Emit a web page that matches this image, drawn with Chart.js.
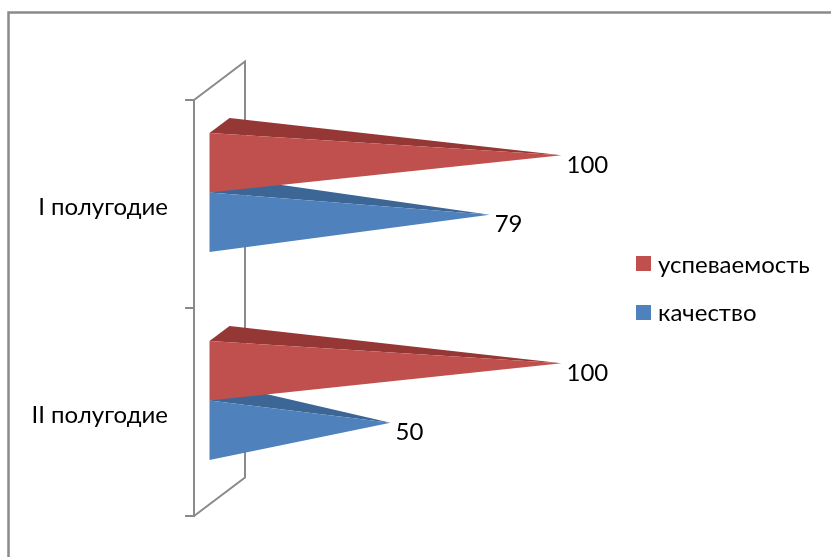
<!DOCTYPE html>
<html>
<head>
<meta charset="utf-8">
<script src="https://cdn.jsdelivr.net/npm/chart.js@4/dist/chart.umd.min.js"></script>
<style>
html, body { margin: 0; padding: 0; background: #fff; overflow: hidden; }
canvas { display: block; }
</style>
</head>
<body>
<canvas id="mycanvas" width="831" height="557"></canvas>
<script>
var categories = ["I полугодие", "II полугодие"];
var seriesNames = ["успеваемость", "качество"];
var uspevaemost = [100, 100];
var kachestvo = [79, 50];

var frontColors = ["#C0504D", "#4F81BD"];
var topColors = ["#953735", "#3C6696"];
var axisColor = "#8A8A8A";
var fontName = "Lato, 'Open Sans', sans-serif";

// oblique 3d look: wall depth, how far the bars stand off the front of the wall, bar depth
var wallDx = 51, wallDy = -38.5;
var barDx = 15.5, barDy = -11.6;
var coneDx = 20, coneDy = -15;

var conePlugin = {
  id: 'cone3d',
  beforeDraw: function(chart) {
    var ctx = chart.ctx;
    ctx.save();
    ctx.strokeStyle = axisColor;
    ctx.lineWidth = 2.5;
    ctx.beginPath();
    ctx.moveTo(8.5, 557);
    ctx.lineTo(8.5, 12.5);
    ctx.lineTo(831, 12.5);
    ctx.stroke();
    ctx.restore();
  },
  beforeDatasetsDraw: function(chart) {
    // back of the wall, the front edge is the axis itself
    var a = chart.chartArea, ctx = chart.ctx;
    ctx.save();
    ctx.strokeStyle = axisColor;
    ctx.lineWidth = 2;
    ctx.beginPath();
    ctx.moveTo(a.left, a.top);
    ctx.lineTo(a.left + wallDx, a.top + wallDy);
    ctx.lineTo(a.left + wallDx, a.bottom + wallDy);
    ctx.lineTo(a.left, a.bottom);
    ctx.stroke();
    ctx.restore();
  },
  beforeDatasetDraw: function(chart, args) {
    var ctx = chart.ctx;
    var meta = args.meta;
    for (var i = meta.data.length - 1; i >= 0; i--) {
      var bar = meta.data[i];
      var p = bar.getProps(['x', 'y', 'base', 'height'], true);
      var x0 = p.base + barDx;
      var top = p.y - p.height / 2 + barDy;
      var bottom = p.y + p.height / 2 + barDy;
      var tipX = p.x + barDx + coneDx / 2;
      var tipY = p.y + barDy + coneDy / 2;

      ctx.fillStyle = topColors[args.index];
      ctx.beginPath();
      ctx.moveTo(x0, top);
      ctx.lineTo(x0 + coneDx, top + coneDy);
      ctx.lineTo(tipX, tipY);
      ctx.closePath();
      ctx.fill();

      ctx.fillStyle = frontColors[args.index];
      ctx.beginPath();
      ctx.moveTo(x0, top);
      ctx.lineTo(x0, bottom);
      ctx.lineTo(tipX, tipY);
      ctx.closePath();
      ctx.fill();
    }
    return false;
  },
  afterDatasetsDraw: function(chart) {
    var ctx = chart.ctx;
    ctx.save();
    ctx.fillStyle = "#000";
    ctx.font = "24px " + fontName;
    ctx.textAlign = "left";
    ctx.textBaseline = "middle";
    chart.data.datasets.forEach(function(ds, d) {
      chart.getDatasetMeta(d).data.forEach(function(bar, i) {
        var p = bar.getProps(['x', 'y'], true);
        ctx.fillText(ds.data[i], p.x + barDx + coneDx / 2 + 5, p.y + barDy + coneDy / 2 + 10);
      });
    });
    // legend, the built in one keeps too wide a gap after the box
    ctx.textBaseline = "alphabetic";
    chart.data.datasets.forEach(function(ds, d) {
      ctx.fillStyle = ds.backgroundColor;
      ctx.fillRect(636, 256 + d * 49, 15, 15);
      ctx.fillStyle = "#000";
      ctx.fillText(ds.label, 658, 273 + d * 47.5);
    });
    ctx.restore();
  }
};

var chartdata = {
  labels: categories,
  datasets: [
    { label: seriesNames[0], data: uspevaemost, backgroundColor: frontColors[0], borderWidth: 0 },
    { label: seriesNames[1], data: kachestvo, backgroundColor: frontColors[1], borderWidth: 0 }
  ]
};

var ctx = document.getElementById("mycanvas");
var barChart = new Chart(ctx, {
  type: 'bar',
  data: chartdata,
  plugins: [conePlugin],
  options: {
    indexAxis: 'y',
    responsive: false,
    animation: false,
    events: [],
    layout: { padding: { left: 0, top: 100, right: 295, bottom: 41 } },
    datasets: { bar: { categoryPercentage: 0.572, barPercentage: 1 } },
    scales: {
      x: { min: 0, max: 100, display: false },
      y: {
        afterFit: function(scale) { scale.width = 194; },
        grid: { offset: true, drawOnChartArea: false, color: axisColor, lineWidth: 2, tickLength: 9 },
        border: { color: axisColor, width: 2 },
        ticks: { color: "#000", padding: 17, labelOffset: 3, font: { family: fontName, size: 24 } }
      }
    },
    plugins: {
      tooltip: { enabled: false },
      legend: { display: false }
    }
  }
});
</script>
</body>
</html>
